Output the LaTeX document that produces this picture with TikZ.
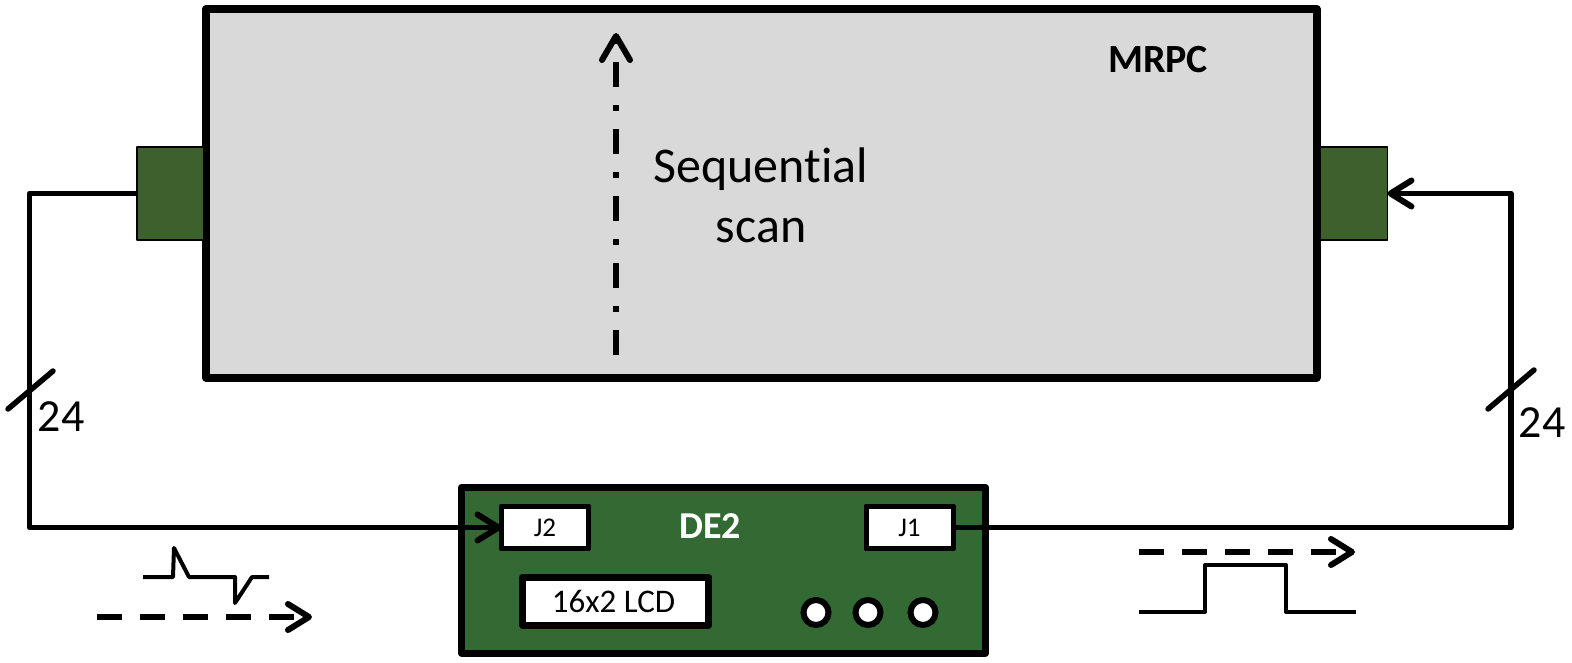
\documentclass[tikz,border=0pt]{standalone}
\usepackage{fontspec}
\setmainfont[Ligatures=CommonOff]{Carlito}
\usetikzlibrary{arrows.meta}
\definecolor{panelgrey}{HTML}{D9D9D9}
\definecolor{portgreen}{HTML}{3C612D}
\definecolor{boardgreen}{HTML}{336A33}
\newcommand{\fs}[1]{\fontsize{#1}{#1}\selectfont}
\tikzset{
  box/.style={draw=black,rectangle,inner sep=0pt,outer sep=0pt,line join=round},
  portbox/.style={box,fill=portgreen,line width=1.5pt,minimum width=67pt,minimum height=93pt},
  jackbox/.style={box,fill=white,line width=5pt,minimum width=87pt,minimum height=42pt,font=\fs{27}},
  led/.style={draw=black,circle,fill=white,line width=6pt,inner sep=0pt,minimum size=25pt},
  wire/.style={draw=black,line width=5.5pt,line join=round},
  barb/.style={-{Straight Barb[length=21pt,width=26pt,line width=6pt,round]}},
  trace/.style={draw=black,line width=4pt,line join=round},
  flow/.style={draw=black,line width=5.5pt,dash pattern=on 25pt off 18pt},
  lbl/.style={inner sep=0pt,outer sep=0pt}
}
\begin{document}
\begin{tikzpicture}[x=1pt,y=-1pt]
\useasboundingbox (0,0) rectangle (1572,663);

% detector body with its two readout connectors
\node[box,fill=panelgrey,line width=8pt,minimum width=1110.5pt,minimum height=368.5pt] (mrpc) at (761.25,193.25) {};
\node[portbox] (cl) at (170.5,193.5) {};
\node[portbox] (cr) at (1354,193.5) {};

% readout board
\node[box,fill=boardgreen,line width=7pt,minimum width=524pt,minimum height=166pt] (de2) at (723.5,570) {};
\node[lbl,font=\fs{38}\bfseries,text=white] (de2t) at (710,526) {DE2};

% cabling around the board
\coordinate (wl) at (29.5,0);
\coordinate (wr) at (1511,0);
\node[jackbox] (j2) at (545,527.5) {};
\node[jackbox] (j1) at (909.5,527.5) {};
\draw[wire,barb] (cl.west) -- (cl.west -| wl) -- (j2.west -| wl) -- (j2.west);
\draw[wire,barb] (j1.east) -- (j1.east -| wr) -- (cr.east -| wr) -- (cr.east);
\node[jackbox] at (j2) {J2};
\node[jackbox] at (j1) {J1};

% bus-width ticks
\coordinate (tla) at (8,409);
\coordinate (tlb) at (53,371);
\coordinate (tra) at (1488,409);
\coordinate (trb) at (1534,370);
\draw[wire,line cap=round] (tla) -- (tlb);
\draw[wire,line cap=round] (tra) -- (trb);
\node[lbl,font=\fs{46}] (nl) at (61,417) {24};
\node[lbl,font=\fs{46}] (nr) at (1542,423) {24};

% display and status LEDs
\node[box,fill=white,line width=7pt,minimum width=186pt,minimum height=48pt,font=\fs{33}] (lcd) at (615.5,601) {\hspace*{-4pt}16x2 LCD};
\node[led] (l1) at (816,612.5) {};
\node[led] (l2) at (868,612.5) {};
\node[led] (l3) at (923,612.5) {};

% labels on the detector
\node[lbl,font=\fs{50},align=center] (seq) at (761,195) {Sequential\\[10pt]scan};
\node[lbl,font=\fs{40}\bfseries] (name) at (1158,60) {MRPC};

% scan direction
\coordinate (sa) at (616,355);
\coordinate (sb) at (616,33);
\draw[draw=black,line width=6.5pt,dash pattern=on 25pt off 18pt on 6pt off 18pt,
  -{Straight Barb[length=24pt,width=28pt,line width=6pt,round]}] (sa) -- (sb);

% signal at the input side
\coordinate (fa) at (97,617);
\coordinate (fb) at (312,617);
\draw[flow,barb] (fa) -- (fb);
\coordinate (pa) at (143,577);
\coordinate (pb) at (269,577);
\draw[trace] (pa) -- (173,577) -- (174,548) -- (189,577) -- (235,577) -- (235,603) -- (252,577) -- (pb);

% signal at the output side
\coordinate (ga) at (1139,552);
\coordinate (gb) at (1355,552);
\draw[flow,barb] (ga) -- (gb);
\coordinate (qa) at (1139,612);
\coordinate (qb) at (1356,612);
\draw[trace] (qa) -- (1205,612) -- (1205,565) -- (1286,565) -- (1286,612) -- (qb);
\end{tikzpicture}
\end{document}
